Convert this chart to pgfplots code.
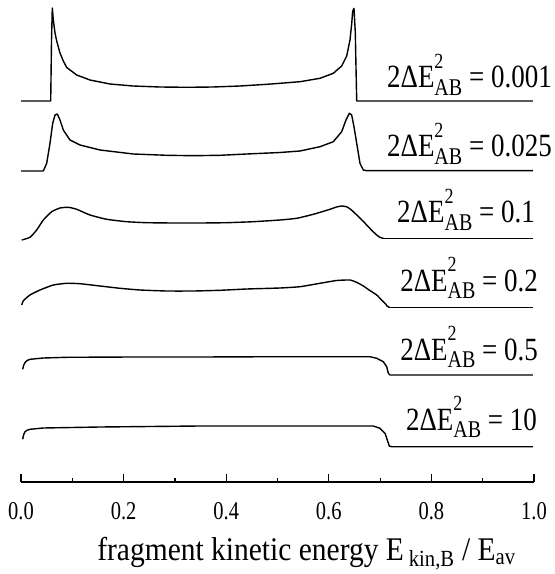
\documentclass[border=0pt]{standalone}
\usepackage{graphicx}
\usepackage{pgfplots}
\pgfplotsset{compat=1.18}
\usepackage{fontspec}
\setmainfont{Liberation Serif}
\newcommand{\lab}[1]{\scalebox{1}[1.2]{\fontsize{27}{30}\selectfont 2ΔE\rlap{\raisebox{0.6em}{\fontsize{18}{18}\selectfont 2}}\raisebox{-0.22em}{\fontsize{20}{20}\selectfont AB} = #1}}
\newcommand{\tl}[1]{\scalebox{1}[1.25]{#1}}
\pgfplotsset{crv/.style={black, line width=1.4pt, mark=none, line join=round}}
\begin{document}
\begin{tikzpicture}
\path[use as bounding box] (-21pt,-92pt) rectangle (534pt,482pt);
\begin{axis}[
  scale only axis, width=513pt, height=482pt,
  xmin=0, xmax=1, ymin=0, ymax=482,
  axis x line=bottom, axis y line=none,
  axis line style={-, line width=1.2pt},
  xtick={0,0.2,0.4,0.6,0.8,1},
  xticklabels={\tl{0.0},\tl{0.2},\tl{0.4},\tl{0.6},\tl{0.8},\tl{1.0}},
  minor x tick num=1,
  tick align=inside,
  major tick length=8pt, minor tick length=4pt,
  tick style={line width=1.2pt, black},
  xticklabel style={font=\fontsize{20.5}{24}\selectfont, yshift=-17pt},
  xlabel={\scalebox{1}[1.12]{fragment kinetic energy E\,\textsubscript{kin,B} / E\textsubscript{av}}},
  xlabel style={font=\fontsize{29.5}{32}\selectfont, at={(axis description cs:0.5565,0)}, anchor=base, yshift=-78pt},
  clip=false,
]
% 2dE^2 = 0.001
\addplot[crv] coordinates {(0,381) (0.0565,381) (0.0579,381) (0.0595,442) (0.0610,474) (0.0630,462) (0.0663,449) (0.0696,441) (0.0760,429) (0.0825,421) (0.0891,414.5) (0.1086,407) (0.1345,402) (0.1735,398) (0.2183,396) (0.2710,395) (0.3236,394.7) (0.3743,395) (0.4269,396) (0.4795,397.7) (0.5049,398.7) (0.5439,400.3) (0.5828,403.7) (0.6088,408.7) (0.6251,416) (0.6349,426) (0.6413,442) (0.6446,458) (0.6466,471) (0.6491,473.7) (0.6517,449) (0.6530,415) (0.6544,381) (0.998,381)};
% 0.025
\addplot[crv] coordinates {(0,311) (0.0435,311) (0.0501,318.7) (0.0565,338.7) (0.0618,358.7) (0.0663,367) (0.0708,368) (0.0760,362) (0.0825,352) (0.0955,342) (0.1150,337) (0.1540,332) (0.2189,328) (0.2840,326.7) (0.3359,326.3) (0.3879,326.7) (0.4400,328) (0.5049,329.5) (0.5439,331) (0.5828,335.3) (0.6088,340.3) (0.6251,350.3) (0.6335,362) (0.6400,368.7) (0.6446,367) (0.6491,355.3) (0.6544,338.7) (0.6608,318.7) (0.6673,312) (0.6739,311.3) (0.998,311.3)};
% 0.1
\addplot[crv, smooth, tension=0.3] coordinates {(0.0014,242) (0.0175,244.7) (0.0306,252) (0.0435,262) (0.0598,270.3) (0.0760,274) (0.0922,274.7) (0.1086,272.7) (0.1345,267) (0.1671,262.7) (0.2060,260.3) (0.2450,259.3) (0.2969,259) (0.3489,259) (0.4010,259.3) (0.4528,260.3) (0.5049,262) (0.5374,263.7) (0.5698,267.7) (0.6023,272.7) (0.6150,275) (0.6251,276) (0.6349,275.2) (0.6430,272.5) (0.6511,268.7) (0.6625,263) (0.6739,257) (0.6840,251.5) (0.6934,247) (0.7000,244.6) (0.7063,243.7)};
\addplot[crv] coordinates {(0.7063,243.7) (0.998,243.7)};
% 0.2
\addplot[crv, smooth, tension=0.3] coordinates {(0.0014,177) (0.0045,181.3) (0.0175,187) (0.0370,192) (0.0630,197) (0.0891,198.7) (0.1150,198.3) (0.1540,196) (0.1930,193.7) (0.2320,192) (0.2840,191) (0.3359,191) (0.3879,191.7) (0.4400,193) (0.5049,194) (0.5439,195.3) (0.5828,198.7) (0.6154,201.5) (0.6413,202) (0.6550,199.5) (0.6673,196) (0.6800,191.5) (0.6934,187) (0.7020,182.5) (0.7096,178.7) (0.7140,175.8) (0.7180,174.7)};
\addplot[crv] coordinates {(0.7180,174.7) (0.998,174.7)};
% 0.5
\addplot[crv] coordinates {(0.0033,112.7) (0.0050,116.5) (0.0078,119.3) (0.0120,121.5) (0.0175,122.7) (0.0435,124) (0.0891,124.7) (0.2183,125) (0.3489,125) (0.5049,125.3) (0.6803,125.3) (0.6934,123.7) (0.7062,120.3) (0.7129,115.3) (0.7160,108.7) (0.7193,107) (0.998,107)};
% 10
\addplot[crv] coordinates {(0.0033,42.7) (0.0050,47) (0.0078,50.3) (0.0120,51.8) (0.0175,52.7) (0.0435,54) (0.1540,55) (0.3489,56) (0.5049,56) (0.6868,56) (0.6998,53.7) (0.7096,48.7) (0.7140,42) (0.7179,36) (0.7226,35.3) (0.998,35.3)};
\node[anchor=base east, inner sep=0pt] at (axis cs:1.035,394) {\lab{0.001}};
\node[anchor=base east, inner sep=0pt] at (axis cs:1.035,325) {\lab{0.025}};
\node[anchor=base east, inner sep=0pt] at (axis cs:1.002,259) {\lab{0.1}};
\node[anchor=base east, inner sep=0pt] at (axis cs:1.008,191) {\lab{0.2}};
\node[anchor=base east, inner sep=0pt] at (axis cs:1.008,122) {\lab{0.5}};
\node[anchor=base east, inner sep=0pt] at (axis cs:1.006,52) {\lab{10}};
\end{axis}
\end{tikzpicture}
\end{document}
